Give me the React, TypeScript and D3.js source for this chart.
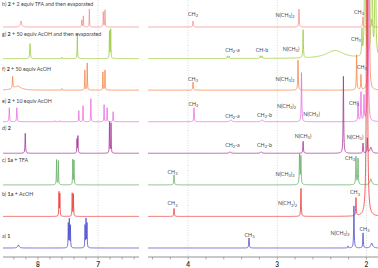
import React, { useMemo } from 'react';
import * as d3 from 'd3';

const WIDTH = 378;
const HEIGHT = 268;

// traces, top to bottom
const traceKeys = ['h', 'g', 'f', 'e', 'd', 'c', 'b', 'a'];
const traceBold = ['2', '2', '2', '2', '2', '1a', '1a', '1'];
const traceRest = [
  ' + 2 equiv TFA and then evaporated',
  ' + 50 equiv AcOH and then evaporated',
  ' + 50 equiv AcOH',
  ' + 10 equiv AcOH',
  '',
  ' + TFA',
  ' + AcOH',
  '',
];
const traceColors = ['#f58f8f', '#9ccc3c', '#f5884a', '#ec6fe0', '#a63399', '#6aac6a', '#ee3b3b', '#4d4dcc'];

// peaks: [ppm, intensity, half width in ppm]
type Peak = [number, number, number?];
const peaksH: Peak[] = [
  [8.28, 6, 0.012], [7.27, 7], [7.245, 11], [7.145, 18], [6.913, 15], [6.885, 17],
  [3.945, 6], [2.756, 18], [2.04, 10], [1.94, 8],
];
const peaksG: Peak[] = [
  [8.13, 15, 0.006], [7.6, 1.5], [7.345, 25], [6.81, 27], [6.79, 29],
  [3.56, 2.5], [3.54, 2.5], [3.19, 2.5], [3.17, 2.5], [2.71, 28], [2.35, 8, 0.12],
  [2.05, 25], [2.016, 400], [1.94, 400], [1.9, 300],
];
const peaksF: Peak[] = [
  [8.42, 12, 0.006], [8.34, 4, 0.07], [7.6, 1.5], [7.22, 20], [7.18, 27], [6.92, 18], [6.885, 20],
  [3.945, 8], [2.767, 30], [2.11, 35], [2.061, 15], [1.972, 400],
];
const peaksE: Peak[] = [
  [8.475, 14, 0.005], [8.35, 14, 0.005], [7.72, 1], [7.63, 1], [7.32, 11], [7.25, 16], [7.12, 23],
  [6.9, 17], [6.85, 14], [6.75, 10],
  [3.934, 14], [3.52, 2, 0.01], [3.17, 2, 0.01], [2.728, 49], [2.094, 20], [2.061, 29], [2.027, 25], [1.983, 300],
];
const peaksD: Peak[] = [
  [8.21, 20, 0.005], [7.35, 14], [7.335, 17], [6.81, 31], [6.785, 30],
  [3.53, 1.5, 0.01], [3.18, 1.5, 0.01], [2.71, 12], [2.258, 77], [2.038, 10], [1.99, 15], [1.95, 6, 0.012],
];
const peaksC: Peak[] = [
  [7.69, 25], [7.66, 24], [7.42, 25], [7.4, 24],
  [4.158, 10], [2.75, 30], [2.735, 28], [2.117, 28], [2.094, 26], [1.95, 6, 0.012],
];
const peaksB: Peak[] = [
  [7.65, 24], [7.635, 22], [7.43, 23], [7.41, 22],
  [4.158, 8], [2.734, 28], [2.117, 18], [1.994, 475, 0.0052],
];
const peaksA: Peak[] = [
  [8.325, 3, 0.015], [7.495, 24], [7.478, 28], [7.46, 22], [7.217, 22], [7.2, 28], [7.184, 24],
  [3.317, 10], [2.207, 2], [2.14, 42], [2.038, 15], [1.94, 5, 0.012],
];
const tracePeaks = [peaksH, peaksG, peaksF, peaksE, peaksD, peaksC, peaksB, peaksA];

// peak annotations: [text, ppm, level above baseline]
type Note = [string, number, number];
const notesH: Note[] = [['CH2', 3.945, 11], ['N(CH3)2', 2.913, 10], ['CH3', 2.083, 13]];
const notesG: Note[] = [['CH2-a', 3.502, 7], ['CH-b', 3.171, 7], ['N(CH3)', 2.846, 8], ['CH3', 2.117, 18]];
const notesF: Note[] = [['CH3', 3.945, 9], ['N(CH3)2', 2.913, 9], ['CH3', 2.05, 21]];
const notesE: Note[] = [
  ['CH2', 3.94, 16], ['CH2-a', 3.502, 4], ['CH2-b', 3.143, 5], ['N(CH3)2', 2.896, 14],
  ['N(CH3)', 2.616, 6], ['CH3', 2.139, 17],
];
const notesD: Note[] = [['CH2-a', 3.502, 6], ['CH2-b', 3.143, 6], ['N(CH3)', 2.711, 15], ['N(CH3)', 2.128, 14]];
const notesC: Note[] = [['CH3', 4.175, 11], ['N(CH3)2', 2.913, 9], ['CH3', 2.184, 25]];
const notesB: Note[] = [['CH3', 4.175, 11], ['N(CH3)2', 2.885, 11], ['CH3', 2.128, 22]];
const notesA: Note[] = [['CH3', 3.311, 11], ['N(CH3)2', 2.296, 13], ['CH3', 2.021, 17]];
const traceNotes = [notesH, notesG, notesF, notesE, notesD, notesC, notesB, notesA];

const majorTicks = [8, 7, 4, 3, 2];
const gridPpm = [7, 4, 3, 2];

const FONT = 'Lato, "Open Sans", sans-serif';

const intensity = (p: number, peaks: Peak[]) =>
  peaks.reduce((s, [c, h, w = 0.0035]) => s + (h * w * w) / ((p - c) * (p - c) + w * w), 0);

const Sub = ({ text }: { text: string }) => {
  // digits are subscripts
  const parts = text.split(/(\d)/).filter((s) => s !== '');
  return (
    <>
      {parts.map((s, i) =>
        /\d/.test(s) ? (
          <tspan key={i} fontSize={4} dy={1.2}>{s}</tspan>
        ) : (
          <tspan key={i} dy={i > 0 && /\d/.test(parts[i - 1]) ? -1.2 : 0}>{s}</tspan>
        )
      )}
    </>
  );
};

const App = () => {
  const xLeft = d3.scaleLinear().domain([8.58, 6.32]).range([3, 139]);
  const xRight = d3.scaleLinear().domain([4.45, 1.87]).range([148, 378]);
  const yBase = d3.scalePoint<string>().domain(traceKeys).range([27, 248]);
  const axisY = 257;
  const panels = [xLeft, xRight];

  const paths = useMemo(() => {
    return traceKeys.map((k, ti) => {
      const base = yBase(k) as number;
      const peaks = tracePeaks[ti];
      return panels.map((x) => {
        const [r0, r1] = x.range();
        const [d0, d1] = x.domain();
        const pts = d3.range(r0, r1 + 0.001, 0.2).map((px) => x.invert(px));
        peaks.forEach(([c]) => {
          if (c <= d0 && c >= d1) pts.push(c);
        });
        pts.sort((a, b) => b - a);
        const line = d3
          .line<number>()
          .x((p) => x(p))
          .y((p) => base - intensity(p, peaks));
        return line(pts) as string;
      });
    });
  }, []);

  const minorTicks = panels.map((x) => {
    const [d0, d1] = x.domain();
    return d3.range(Math.ceil(d1 * 5), Math.floor(d0 * 5) + 1).map((v) => v / 5);
  });

  return (
    <svg
      width={WIDTH}
      height={HEIGHT}
      style={{ position: 'absolute', left: 0, top: 0, background: '#fff' }}
      fontFamily={FONT}
    >
      {/* dotted grid */}
      {gridPpm.map((p) => {
        const x = p > 5 ? xLeft(p) : xRight(p);
        return (
          <line key={p} x1={x} x2={x} y1={0} y2={axisY} stroke="#c8c8c8" strokeWidth={0.7} strokeDasharray="1,1.5" />
        );
      })}

      {/* traces */}
      {traceKeys.map((k, ti) => (
        <g key={k}>
          {paths[ti].map((d, pi) => (
            <path key={pi} d={d} fill="none" stroke={traceColors[ti]} strokeWidth={0.8} />
          ))}
        </g>
      ))}

      {/* trace titles */}
      {traceKeys.map((k, ti) => (
        <text key={k} x={2} y={(yBase(k) as number) - [21, 23, 19, 19, 23, 23, 20, 10][ti]} fontSize={5.3} fill="#444">
          {k}){' '}
          <tspan fontWeight="bold">{traceBold[ti]}</tspan>
          {traceRest[ti]}
        </text>
      ))}

      {/* peak annotations */}
      {traceNotes.map((notes, ti) =>
        notes.map(([t, p, lvl], i) => (
          <text
            key={`${ti}-${i}`}
            x={xRight(p)}
            y={(yBase(traceKeys[ti]) as number) - lvl}
            fontSize={5.3}
            fill="#444"
            textAnchor="middle"
          >
            <Sub text={t} />
          </text>
        ))
      )}

      {/* axis */}
      {panels.map((x, pi) => (
        <g key={pi}>
          <line x1={x.range()[0]} x2={x.range()[1]} y1={axisY} y2={axisY} stroke="#777" strokeWidth={0.8} />
          {minorTicks[pi].map((v) => (
            <line key={v} x1={x(v)} x2={x(v)} y1={axisY} y2={axisY + 2.5} stroke="#777" strokeWidth={0.6} />
          ))}
          {majorTicks
            .filter((v) => v <= x.domain()[0] && v >= x.domain()[1])
            .map((v) => (
              <text key={v} x={x(v)} y={axisY + 10} fontSize={6.5} fontWeight="bold" fill="#333" textAnchor="middle">
                {v}
              </text>
            ))}
        </g>
      ))}
    </svg>
  );
};

export default App;
